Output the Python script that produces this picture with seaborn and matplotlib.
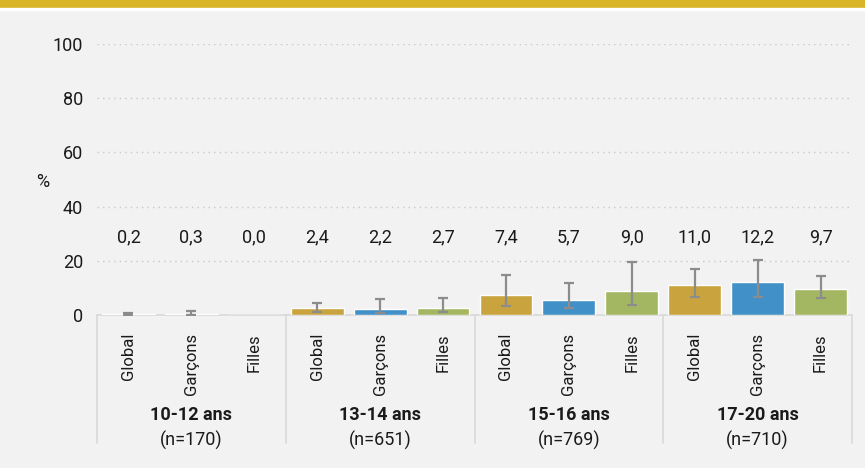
import matplotlib
matplotlib.use('Agg')
import matplotlib.pyplot as plt
import numpy as np
import pandas as pd
import seaborn as sns
from matplotlib.lines import Line2D
from matplotlib.patches import Rectangle

age_groups = ['10-12 ans', '13-14 ans', '15-16 ans', '17-20 ans']
group_sizes = ['(n=170)', '(n=651)', '(n=769)', '(n=710)']
sub_labels = ['Global', 'Garçons', 'Filles']

values = [0.2, 0.3, 0.0, 2.4, 2.2, 2.7, 7.4, 5.7, 9.0, 11.0, 12.2, 9.7]
value_labels = ['0,2', '0,3', '0,0', '2,4', '2,2', '2,7', '7,4', '5,7', '9,0', '11,0', '12,2', '9,7']
ci_low = [0.0, 0.05, 0.0, 1.0, 0.7, 1.0, 3.3, 2.6, 3.7, 6.6, 6.6, 6.3]
ci_high = [0.8, 1.6, 0.0, 4.4, 6.0, 6.4, 14.8, 11.9, 19.4, 17.1, 20.4, 14.5]

colors = {'Global': '#c9a33e', 'Garçons': '#4290c8', 'Filles': '#a3b762'}

BG = '#f2f2f2'
GREY_TXT = '#1a1a1a'
FS = 13

sns.set_style('white')
plt.rcParams['font.family'] = ['Roboto', 'DejaVu Sans']
plt.rcParams['font.size'] = FS

df = pd.DataFrame({
    'slot': [f'{g}|{s}' for g in age_groups for s in sub_labels],
    'sub': [s for g in age_groups for s in sub_labels],
    'value': values,
})

fig = plt.figure(figsize=(8.65, 4.68), dpi=100, facecolor=BG)
# gold banner on top
fig.patches.append(Rectangle((0, 1 - 8 / 468), 1, 8 / 468, transform=fig.transFigure,
                             color='#d9b427', zorder=0))
fig.patches.append(Rectangle((0, 1 - 10 / 468), 1, 2 / 468, transform=fig.transFigure,
                             color='white', zorder=0))

ax = fig.add_axes([97 / 865, 1 - 315 / 468, (852 - 97) / 865, (315 - 44) / 468])
ax.set_facecolor(BG)

sns.barplot(data=df, x='slot', y='value', hue='sub', palette=colors, dodge=False,
            width=0.84, saturation=1, legend=False, ax=ax, zorder=3)

xpos = np.asarray(ax.get_xticks(), dtype=float)
vals = np.array(values)
lo = np.array(ci_low)
hi = np.array(ci_high)
mask = hi > 0
ax.errorbar(xpos[mask], vals[mask], yerr=[vals[mask] - lo[mask], hi[mask] - vals[mask]],
            fmt='none', ecolor='#8c8c8c', elinewidth=1.6, capsize=3.8, capthick=1.6,
            zorder=4)

for x, lab in zip(xpos, value_labels):
    ax.text(x, 28.5, lab, ha='center', va='center', color=GREY_TXT, fontsize=FS)

ax.set_ylim(0, 100)
ax.set_xlim(-0.5, len(values) - 0.5)
ax.set_yticks([0, 20, 40, 60, 80, 100])
ax.yaxis.grid(True, linestyle=(0, (1, 3)), color='#c8c8c8', linewidth=1)
ax.xaxis.grid(False)
ax.set_axisbelow(True)

ax.set_xticks(xpos)
ax.set_xticklabels([s for g in age_groups for s in sub_labels], rotation=90,
                   va='top', ha='center')
ax.tick_params(axis='x', length=0, pad=13, colors=GREY_TXT, labelsize=12)
ax.tick_params(axis='y', length=0, pad=10, colors=GREY_TXT, labelsize=FS)

ax.set_xlabel('')
ax.set_ylabel('%', rotation=0, color=GREY_TXT, fontsize=FS, va='center', ha='center')
ax.yaxis.set_label_coords(-0.072, 0.49)

for side in ['left', 'right', 'top']:
    ax.spines[side].set_visible(False)
ax.spines['bottom'].set_color('#d9d9d9')
ax.spines['bottom'].set_linewidth(1.2)

# group separators below the axis
sep_bottom = -(443 - 315) / (315 - 44)
trans = ax.get_xaxis_transform()
for k in range(len(age_groups) + 1):
    xs = k * 3 - 0.5
    ax.add_line(Line2D([xs, xs], [0, sep_bottom], transform=trans, color='#d9d9d9',
                       linewidth=1.2, clip_on=False))

for k, (g, n) in enumerate(zip(age_groups, group_sizes)):
    xc = k * 3 + 1
    ax.text(xc, -(415 - 315) / (315 - 44), g, transform=trans, ha='center', va='center',
            fontweight='bold', color=GREY_TXT, fontsize=FS)
    ax.text(xc, -(440 - 315) / (315 - 44), n, transform=trans, ha='center', va='center',
            color=GREY_TXT, fontsize=FS)

fig.savefig('out.png', dpi=100, facecolor=BG)
